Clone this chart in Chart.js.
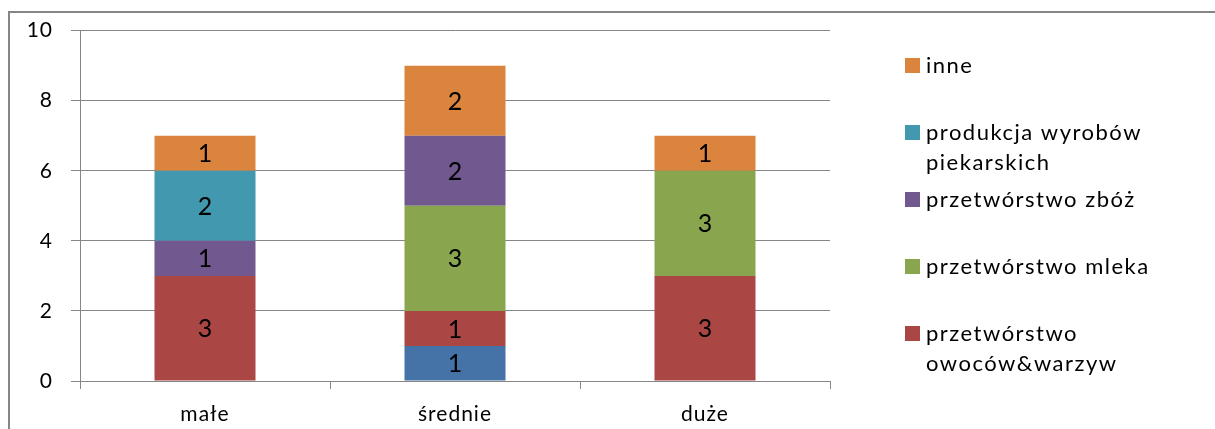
<!DOCTYPE html>
<html>
<head>
<meta charset="utf-8">
<script src="https://cdn.jsdelivr.net/npm/chart.js@4/dist/chart.umd.min.js"></script>
<style>
  html, body { margin: 0; padding: 0; background: #fff; overflow: hidden; }
  #wrap { position: relative; width: 1215px; height: 429px; }
</style>
</head>
<body>
<div id="wrap"><canvas id="c" width="1215" height="429"></canvas></div>
<script>
// Company size groups
const categories = ['małe', 'średnie', 'duże'];

// Stacked series, bottom to top
const seriesLabels = ['', 'przetwórstwo owoców&warzyw', 'przetwórstwo mleka', 'przetwórstwo zbóż', 'produkcja wyrobów piekarskich', 'inne'];
const valuesUnlabelled = [0, 1, 0];
const valuesFruitVeg   = [3, 1, 3];
const valuesMilk       = [0, 3, 3];
const valuesGrain      = [1, 2, 0];
const valuesBakery     = [2, 0, 0];
const valuesOther      = [1, 2, 1];
const seriesColors = ['#4572A7', '#AA4643', '#89A54E', '#71588F', '#4198AF', '#DB843D'];

const yTickValues = [0, 2, 4, 6, 8, 10];

const FONT = 'Lato, "Open Sans", sans-serif';
const AXIS_GRAY = '#868686';

const seriesValues = [valuesUnlabelled, valuesFruitVeg, valuesMilk, valuesGrain, valuesBakery, valuesOther];
const datasets = seriesValues.map((vals, i) => ({
  label: seriesLabels[i],
  data: vals,
  backgroundColor: seriesColors[i],
  borderWidth: 0,
  barPercentage: 0.404,
  categoryPercentage: 1.0
}));

// Outer frame (left and top edges); slightly spaced axis text
const framePlugin = {
  id: 'frame',
  beforeDraw(chart) {
    const ctx = chart.ctx;
    ctx.letterSpacing = '1px';
    ctx.save();
    ctx.fillStyle = '#fff';
    ctx.fillRect(0, 0, chart.width, chart.height);
    ctx.strokeStyle = AXIS_GRAY;
    ctx.lineWidth = 2;
    ctx.beginPath();
    ctx.moveTo(9, chart.height);
    ctx.lineTo(9, 12);
    ctx.lineTo(chart.width, 12);
    ctx.stroke();
    ctx.restore();
  }
};

// Value labels centred inside each segment
const segmentLabels = {
  id: 'segmentLabels',
  afterDatasetsDraw(chart) {
    const ctx = chart.ctx;
    ctx.save();
    ctx.letterSpacing = '0px';
    ctx.font = '25px ' + FONT;
    ctx.fillStyle = '#000';
    ctx.textAlign = 'center';
    ctx.textBaseline = 'middle';
    chart.data.datasets.forEach((ds, di) => {
      const meta = chart.getDatasetMeta(di);
      meta.data.forEach((el, i) => {
        const v = ds.data[i];
        if (!v) return;
        ctx.fillText(String(v), el.x, (el.y + el.base) / 2 + 1);
      });
    });
    ctx.restore();
  }
};

// Legend on the right, top entry = top of stack, with word wrapping
const sideLegend = {
  id: 'sideLegend',
  afterDraw(chart) {
    const ctx = chart.ctx;
    const area = chart.chartArea;
    const items = chart.data.datasets
      .map(ds => ({ text: ds.label, color: ds.backgroundColor }))
      .filter(it => it.text)
      .reverse();
    ctx.save();
    ctx.letterSpacing = '1.5px';
    ctx.font = '22px ' + FONT;
    ctx.fillStyle = '#000';
    ctx.textBaseline = 'middle';
    ctx.textAlign = 'left';
    const boxX = area.right + 75;
    const textX = boxX + 21;
    const maxW = 270;
    const firstY = 65.5;
    const step = 67;
    const lineH = 30;
    items.forEach((it, k) => {
      const cy = firstY + k * step;
      ctx.fillStyle = it.color;
      ctx.fillRect(boxX, cy - 7.5, 15, 15);
      const words = it.text.split(' ');
      const lines = [];
      let cur = '';
      words.forEach(w => {
        const test = cur ? cur + ' ' + w : w;
        if (ctx.measureText(test).width > maxW && cur) {
          lines.push(cur);
          cur = w;
        } else {
          cur = test;
        }
      });
      if (cur) lines.push(cur);
      ctx.fillStyle = '#000';
      lines.forEach((ln, li) => ctx.fillText(ln, textX, cy + li * lineH));
    });
    ctx.restore();
  }
};

new Chart(document.getElementById('c'), {
  type: 'bar',
  data: { labels: categories, datasets },
  plugins: [framePlugin, segmentLabels, sideLegend],
  options: {
    responsive: false,
    animation: false,
    devicePixelRatio: 1,
    layout: { padding: { left: 0, top: 28, right: 385, bottom: 0 } },
    plugins: {
      legend: { display: false },
      tooltip: { enabled: false },
      title: { display: false }
    },
    scales: {
      x: {
        stacked: true,
        grid: {
          offset: true,
          drawOnChartArea: false,
          drawTicks: true,
          tickLength: 8,
          color: AXIS_GRAY,
          lineWidth: 1
        },
        border: { display: true, color: AXIS_GRAY, width: 1 },
        ticks: { font: { family: FONT, size: 21 }, color: '#000', padding: 13 },
        afterFit(scale) { scale.height = 48; }
      },
      y: {
        stacked: true,
        min: 0,
        max: 10,
        afterBuildTicks(scale) { scale.ticks = yTickValues.map(v => ({ value: v })); },
        grid: { color: AXIS_GRAY, lineWidth: 1, tickLength: 9, drawTicks: true },
        border: { display: true, color: AXIS_GRAY, width: 1 },
        ticks: { font: { family: FONT, size: 21 }, color: '#000', padding: 18 },
        afterFit(scale) { scale.width = 80; }
      }
    }
  }
});
</script>
</body>
</html>
